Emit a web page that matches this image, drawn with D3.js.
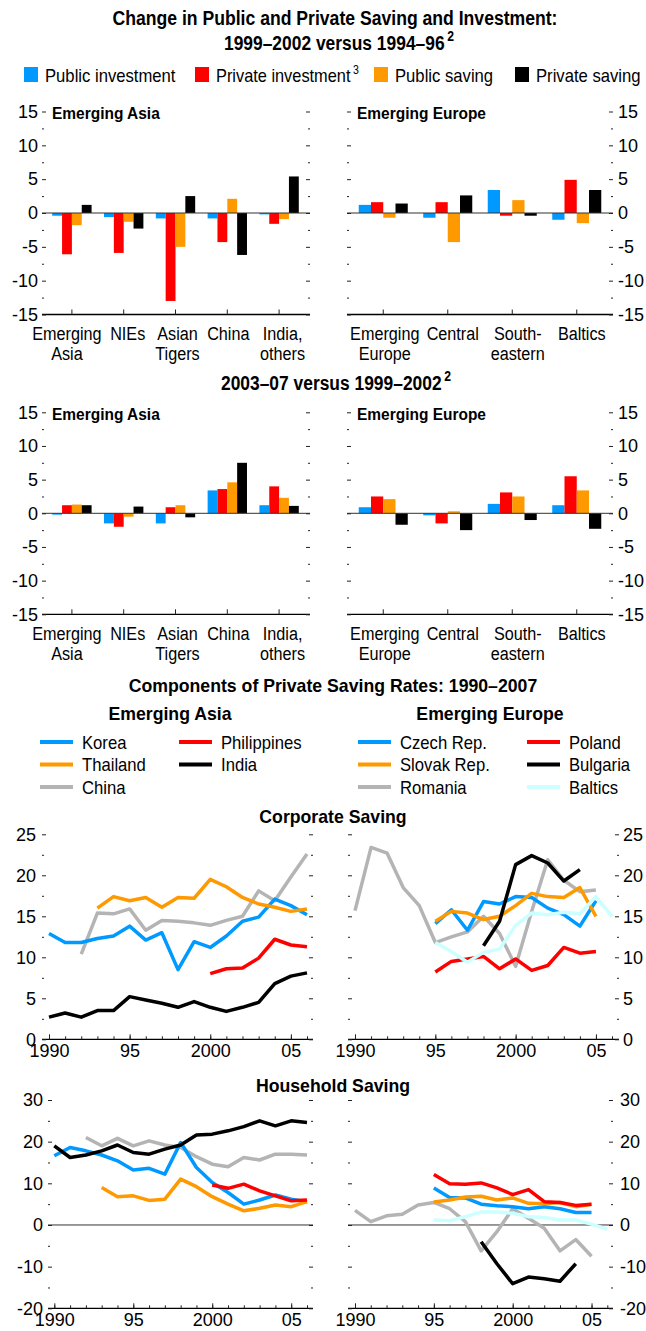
<!DOCTYPE html>
<html lang="en">
<head>
<meta charset="utf-8">
<title>Public and Private Saving and Investment</title>
<script src="https://d3js.org/d3.v7.min.js"></script>
<style>
  body { margin: 0; background: #fff; }
  svg text { font-family: "Liberation Sans", Arial, sans-serif; fill: #000; }
  .ttl { font-weight: bold; font-size: 19px; }
  .big { font-size: 20px; }
  .pname { font-weight: bold; font-size: 17px; }
  .lab { font-size: 18px; }
  .leg { font-size: 18.5px; }
  .tick text { font-size: 18px; }
  .tick line { stroke: #222; }
</style>
</head>
<body>
<script>
var width = 646;
var height = 1331;

// bar charts: series, colours, categories
var barSeries = ["Public investment", "Private investment", "Public saving", "Private saving"];
var barColors = ["#0099ff", "#ff0000", "#ff9900", "#000000"];
var asiaCats = ["Emerging Asia", "NIEs", "Asian Tigers", "China", "India, others"];
var asiaLines = [["Emerging", "Asia"], ["NIEs"], ["Asian", "Tigers"], ["China"], ["India,", "others"]];
var europeCats = ["Emerging Europe", "Central", "Southeastern", "Baltics"];
var europeLines = [["Emerging", "Europe"], ["Central"], ["South-", "eastern"], ["Baltics"]];

// 1999-2002 versus 1994-96 (one row per category, one value per series)
var asia1 = [[-0.4, -6.1, -1.8, 1.2], [-0.6, -5.9, -1.3, -2.3], [-0.8, -13.0, -5.0, 2.5], [-0.8, -4.3, 2.1, -6.2], [-0.2, -1.6, -0.9, 5.4]];
var europe1 = [[1.2, 1.6, -0.7, 1.4], [-0.7, 1.6, -4.3, 2.6], [3.4, -0.4, 1.9, -0.4], [-1.0, 4.9, -1.5, 3.4]];
// 2003-07 versus 1999-2002
var asia2 = [[-0.2, 1.2, 1.3, 1.2], [-1.5, -2.0, -0.5, 1.0], [-1.5, 0.9, 1.2, -0.6], [3.4, 3.6, 4.6, 7.5], [1.2, 4.0, 2.3, 1.1]];
var europe2 = [[0.9, 2.5, 2.1, -1.7], [-0.3, -1.5, 0.3, -2.5], [1.4, 3.1, 2.5, -1.0], [1.2, 5.5, 3.4, -2.3]];
var barTicks = [-15, -10, -5, 0, 5, 10, 15];

// line charts
var asiaNames = ["Korea", "Thailand", "China", "Philippines", "India"];
var asiaColors = ["#0099ff", "#ff9900", "#b4b4b4", "#ff0000", "#000000"];
var europeNames = ["Czech Rep.", "Slovak Rep.", "Romania", "Poland", "Bulgaria", "Baltics"];
var europeColors = ["#0099ff", "#ff9900", "#b4b4b4", "#ff0000", "#000000", "#ccffff"];

var corpAsiaStart = [1990, 1993, 1992, 2000, 1990];
var corpAsia = [
  [12.9, 11.8, 11.8, 12.3, 12.6, 13.8, 12.1, 13.0, 8.5, 11.9, 11.2, 12.6, 14.4, 14.9, 17.1, 16.3, 15.2],
  [16.0, 17.4, 16.9, 17.3, 16.1, 17.3, 17.2, 19.5, 18.6, 17.3, 16.5, 16.1, 15.6, 15.9],
  [10.4, 15.4, 15.3, 15.9, 13.3, 14.5, 14.4, 14.2, 13.9, 14.5, 15.0, 18.1, 16.9, 19.8, 22.6],
  [8.0, 8.6, 8.7, 9.9, 12.2, 11.5, 11.3],
  [2.7, 3.2, 2.7, 3.5, 3.5, 5.2, 4.8, 4.4, 3.9, 4.6, 3.9, 3.4, 3.9, 4.5, 6.8, 7.7, 8.1]
];
var corpEuropeStart = [1995, 1995, 1990, 1995, 1998, 1995];
var corpEurope = [
  [14.1, 15.8, 13.3, 16.8, 16.5, 17.4, 17.3, 16.0, 15.2, 13.8, 16.9],
  [14.4, 15.6, 15.4, 14.6, 15.0, 16.3, 17.8, 17.4, 17.3, 18.5, 15.0],
  [15.7, 23.4, 22.7, 18.5, 16.3, 11.8, 12.5, 13.1, 15.0, 12.9, 8.9, 15.6, 21.9, 19.4, 18.0, 18.2],
  [8.2, 9.5, 9.8, 10.1, 8.6, 9.8, 8.4, 9.0, 11.2, 10.5, 10.7],
  [11.4, 14.4, 21.3, 22.4, 21.5, 19.3, 20.7],
  [11.8, 10.7, 9.4, 10.6, 11.0, 13.9, 15.4, 15.2, 15.5, 15.3, 17.4, 15.0]
];
var hhAsiaStart = [1990, 1993, 1992, 2000, 1990];
var hhAsia = [
  [16.6, 18.6, 17.8, 16.8, 15.4, 13.2, 13.6, 12.2, 19.8, 13.8, 10.2, 7.8, 5.0, 6.0, 7.2, 6.2, 5.6],
  [9.0, 6.8, 7.0, 5.9, 6.2, 11.0, 9.2, 6.8, 5.0, 3.4, 4.0, 4.8, 4.4, 5.6],
  [21.0, 19.0, 20.8, 19.0, 20.2, 19.2, 18.6, 16.4, 14.6, 14.0, 16.2, 15.6, 17.0, 17.0, 16.8],
  [9.6, 8.8, 9.8, 8.2, 7.0, 5.8, 6.0],
  [19.0, 16.2, 16.8, 17.8, 19.2, 17.4, 17.0, 18.2, 19.2, 21.6, 21.8, 22.6, 23.6, 25.0, 23.8, 25.0, 24.6]
];
var hhEuropeStart = [1995, 1995, 1990, 1995, 1998, 1995];
var hhEurope = [
  [8.9, 6.6, 6.5, 5.0, 4.6, 4.4, 3.9, 4.4, 3.9, 3.0, 3.0],
  [5.5, 6.0, 6.7, 6.9, 6.0, 6.5, 5.2, 5.1, 5.4, 4.4, 5.0],
  [3.5, 0.8, 2.2, 2.6, 4.8, 5.4, 3.9, 0.8, -6.2, -1.6, 3.9, 1.6, -0.8, -6.2, -3.5, -7.5],
  [12.1, 9.9, 9.8, 10.1, 8.9, 7.3, 8.5, 5.6, 5.4, 4.7, 5.0],
  [-4.0, -9.3, -14.1, -12.5, -12.9, -13.5, -9.3],
  [1.2, 1.0, 2.0, 3.1, 3.1, 2.8, 2.0, 1.8, 1.2, 1.2, 0.2, -1.0]
];
var corpTicks = [0, 5, 10, 15, 20, 25];
var hhTicks = [-20, -10, 0, 10, 20, 30];
var yearLabels = {1990: "1990", 1995: "95", 2000: "2000", 2005: "05"};

var svg = d3.select("body")
  .append("svg")
  .attr("width", width)
  .attr("height", height);

// narrow a text to imitate the condensed face of the original
function squeeze(sel, f) {
  sel.each(function() {
    var len = this.getComputedTextLength();
    d3.select(this).attr("textLength", len * f).attr("lengthAdjust", "spacingAndGlyphs");
  });
  return sel;
}

function title(x, y, txt, sup, big) {
  var t = svg.append("text")
    .attr("class", big ? "ttl big" : "ttl")
    .attr("x", x).attr("y", y)
    .attr("text-anchor", "middle")
    .text(txt);
  if (sup) {
    t.append("tspan").attr("dx", 3).attr("dy", -9).style("font-size", "14px").text(sup);
  }
  return squeeze(t, big ? 0.88 : 0.93);
}

// ---- titles and bar legend ----
title(335, 25, "Change in Public and Private Saving and Investment:", null, true);
title(339, 50, "1999\u20132002 versus 1994\u201396", "2", true);
title(336, 390, "2003\u201307 versus 1999\u20132002", "2", true);

var legX = [24, 195, 374, 515];
barSeries.forEach(function(s, i) {
  svg.append("rect")
    .attr("x", legX[i]).attr("y", 67)
    .attr("width", 14).attr("height", 15)
    .attr("fill", barColors[i]);
  var t = svg.append("text")
    .attr("class", "leg")
    .attr("x", legX[i] + 21).attr("y", 82)
    .text(s);
  if (i == 1) t.append("tspan").attr("dx", 3).attr("dy", -8).style("font-size", "12px").text("3");
  squeeze(t, 0.9);
});

// y ticks on both sides of a panel, labels on one side
function yTicks(g, y, x0, x1, major, minor, side, pad) {
  var fmt = function(d) { return String(d); };
  var none = function() { return ""; };
  g.append("g").attr("transform", "translate(" + x0 + ",0)")
    .call(d3.axisLeft(y).tickValues(major).tickSize(-4).tickPadding(pad).tickFormat(side == "left" ? fmt : none));
  g.append("g").attr("transform", "translate(" + x1 + ",0)")
    .call(d3.axisRight(y).tickValues(major).tickSize(-4).tickPadding(pad).tickFormat(side == "right" ? fmt : none));
  g.append("g").attr("transform", "translate(" + x0 + ",0)")
    .call(d3.axisLeft(y).tickValues(minor).tickSize(-2).tickFormat(none));
  g.append("g").attr("transform", "translate(" + x1 + ",0)")
    .call(d3.axisRight(y).tickValues(minor).tickSize(-2).tickFormat(none));
  g.selectAll(".domain").remove();
}

function drawBars(box, cats, lines, labelDx, values, name, side) {
  var g = svg.append("g");
  var y = d3.scaleLinear().domain([-15, 15]).range([box.bottom, box.top]);
  var x = d3.scaleBand().domain(cats).range([box.b0, box.b1]);
  var gw = x.bandwidth() * 0.76;
  var inner = d3.scaleBand().domain(barSeries).range([-gw / 2, gw / 2]);

  cats.forEach(function(c, ci) {
    var cx = x(c) + x.bandwidth() / 2;
    g.selectAll(null)
      .data(values[ci])
      .enter()
      .append("rect")
      .attr("x", function(d, i) { return cx + inner(barSeries[i]); })
      .attr("width", inner.bandwidth())
      .attr("y", function(d) { return y(Math.max(0, d)); })
      .attr("height", function(d) { return Math.abs(y(d) - y(0)); })
      .attr("fill", function(d, i) { return barColors[i]; });
  });

  // zero line and bottom axis
  g.append("line").attr("x1", box.x0).attr("x2", box.x1)
    .attr("y1", y(0)).attr("y2", y(0)).attr("stroke", "#333").attr("stroke-width", 1);
  g.append("line").attr("x1", box.x0).attr("x2", box.x1)
    .attr("y1", box.bottom).attr("y2", box.bottom).attr("stroke", "#000").attr("stroke-width", 1.3);

  var xa = g.append("g").attr("transform", "translate(0," + box.bottom + ")")
    .call(d3.axisBottom(x).tickSize(-5).tickFormat(""));
  xa.select(".domain").remove();

  cats.forEach(function(c, ci) {
    lines[ci].forEach(function(l, li) {
      var t = g.append("text").attr("class", "lab")
        .attr("text-anchor", "middle")
        .attr("x", x(c) + x.bandwidth() / 2 + labelDx[ci])
        .attr("y", box.bottom + 25.5 + li * 20)
        .text(l);
      squeeze(t, 0.9);
    });
  });

  yTicks(g, y, box.x0, box.x1, barTicks, [-12.5, -7.5, -2.5, 2.5, 7.5, 12.5], side, side == "left" ? 4 : 5);

  squeeze(g.append("text").attr("class", "pname")
    .attr("x", box.x0 + 10).attr("y", box.top + 7.5)
    .text(name), 0.91);
}

var boxAL = {x0: 42, x1: 310, b0: 46, b1: 305, top: 111.5, bottom: 314.5};
var boxAR = {x0: 347, x1: 613, b0: 351, b1: 609, top: 111.5, bottom: 314.5};
var boxBL = {x0: 42, x1: 310, b0: 46, b1: 305, top: 412.3, bottom: 614.3};
var boxBR = {x0: 347, x1: 613, b0: 351, b1: 609, top: 412.3, bottom: 614.3};
var asiaDx = [-5, 4, 2, 1, 3.5];
var europeDx = [1.5, 5, 5.5, 5];

drawBars(boxAL, asiaCats, asiaLines, asiaDx, asia1, "Emerging Asia", "left");
drawBars(boxAR, europeCats, europeLines, europeDx, europe1, "Emerging Europe", "right");
drawBars(boxBL, asiaCats, asiaLines, asiaDx, asia2, "Emerging Asia", "left");
drawBars(boxBR, europeCats, europeLines, europeDx, europe2, "Emerging Europe", "right");

// ---- line chart section ----
title(333, 692, "Components of Private Saving Rates: 1990\u20132007");
title(170, 720, "Emerging Asia");
title(490, 720, "Emerging Europe");

function lineLegend(names, colors, cols) {
  // two entries per row
  names.forEach(function(n, i) {
    var row = Math.floor(i / 2), col = i % 2;
    var lx = cols[col], ly = 742 + row * 22.5;
    svg.append("line").attr("x1", lx).attr("x2", lx + 33)
      .attr("y1", ly).attr("y2", ly)
      .attr("stroke", colors[i]).attr("stroke-width", 4);
    squeeze(svg.append("text").attr("class", "leg").attr("x", lx + 42).attr("y", ly + 6.5).text(n), 0.9);
  });
}
// legend reading order differs from series order
lineLegend([asiaNames[0], asiaNames[3], asiaNames[1], asiaNames[4], asiaNames[2]],
  [asiaColors[0], asiaColors[3], asiaColors[1], asiaColors[4], asiaColors[2]], [40, 179]);
lineLegend([europeNames[0], europeNames[3], europeNames[1], europeNames[4], europeNames[2], europeNames[5]],
  [europeColors[0], europeColors[3], europeColors[1], europeColors[4], europeColors[2], europeColors[5]], [358, 527]);

function drawLines(box, starts, values, colors, dom, major, minor, side, pad, zero) {
  var g = svg.append("g");
  var x = d3.scaleLinear().domain([1990, 2006]).range([box.xa, box.xb]);
  var y = d3.scaleLinear().domain(dom).range([box.bottom, box.top]);

  if (zero) {
    g.append("line").attr("x1", box.x0).attr("x2", box.x1)
      .attr("y1", y(0)).attr("y2", y(0)).attr("stroke", "#333").attr("stroke-width", 1);
  }
  g.append("line").attr("x1", box.x0).attr("x2", box.x1)
    .attr("y1", box.bottom).attr("y2", box.bottom).attr("stroke", "#000").attr("stroke-width", 1.3);

  var years = d3.range(1990, 2007);
  g.append("g").attr("transform", "translate(0," + box.bottom + ")")
    .call(d3.axisBottom(x).tickValues([1990, 1995, 2000, 2005]).tickSize(-5).tickPadding(5)
      .tickFormat(function(d) { return yearLabels[d]; }));
  g.append("g").attr("transform", "translate(0," + box.bottom + ")")
    .call(d3.axisBottom(x).tickValues(years).tickSize(-3).tickFormat(""));
  g.selectAll(".domain").remove();

  yTicks(g, y, box.x0, box.x1, major, minor, side, pad);

  var line = d3.line()
    .x(function(d) { return x(d[0]); })
    .y(function(d) { return y(d[1]); });

  // grey series first, the rest on top
  var drawOrder = [2].concat(d3.range(values.length).filter(function(i) { return i != 2; }));
  drawOrder.forEach(function(i) {
    var pts = values[i].map(function(v, k) { return [starts[i] + k, v]; });
    g.append("path")
      .attr("d", line(pts))
      .attr("fill", "none")
      .attr("stroke", colors[i])
      .attr("stroke-width", 3.5)
      .attr("stroke-linejoin", "round");
  });
}

title(333, 823, "Corporate Saving");
title(333, 1092, "Household Saving");

var corpMinor = [2.5, 7.5, 12.5, 17.5, 22.5];
var hhMinor = [-15, -5, 5, 15, 25];

drawLines({x0: 42, x1: 313, xa: 49, xb: 307, top: 834.3, bottom: 1039.3},
  corpAsiaStart, corpAsia, asiaColors, [0, 25], corpTicks, corpMinor, "left", 6, false);
drawLines({x0: 348, x1: 619, xa: 355, xb: 612, top: 834.3, bottom: 1039.3},
  corpEuropeStart, corpEurope, europeColors, [0, 25], corpTicks, corpMinor, "right", 4, false);
drawLines({x0: 48, x1: 313, xa: 54.3, xb: 307, top: 1100, bottom: 1308.3},
  hhAsiaStart, hhAsia, asiaColors, [-20, 30], hhTicks, hhMinor, "left", 5, true);
drawLines({x0: 348, x1: 613, xa: 355, xb: 607.3, top: 1100, bottom: 1308.3},
  hhEuropeStart, hhEurope, europeColors, [-20, 30], hhTicks, hhMinor, "right", 7, true);
</script>
</body>
</html>
